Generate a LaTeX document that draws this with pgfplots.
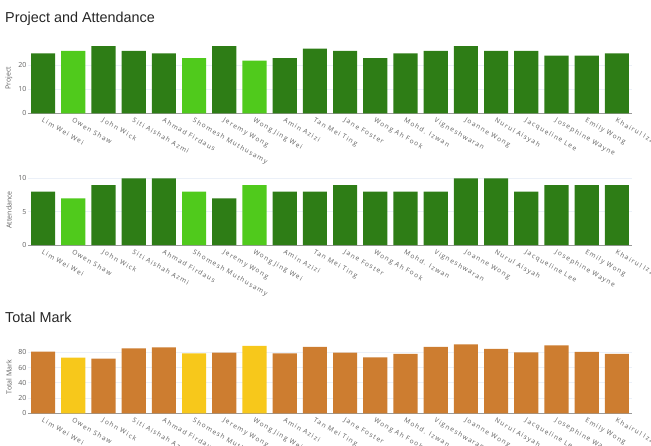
\documentclass[border=0pt]{standalone}
\usepackage{pgfplots}
\pgfplotsset{compat=1.18}
\usepackage{fontspec}
\setmainfont{Liberation Sans}
\newfontfamily\tickfont{Open Sans}
\newfontfamily\namefont[LetterSpace=18]{Open Sans}

\definecolor{darkgreen}{RGB}{46,125,22}
\definecolor{lightgreen}{RGB}{80,202,28}
\definecolor{bronze}{RGB}{205,125,48}
\definecolor{gold}{RGB}{247,200,27}
\definecolor{tickgray}{RGB}{95,95,95}
\definecolor{gridc}{RGB}{235,240,248}

\pgfplotsset{
    panel/.style={
        scale only axis,
        width=604bp,
        xmin=-0.5, xmax=19.5,
        ymin=0,
        ybar, bar width=0.8, bar shift=0pt,
        xtick={0,...,19},
        xticklabels={Lim Wei Wei, Owen Shaw, John Wick, Siti Aishah Azmi, Ahmad Firdaus,
            Shomesh Muthusamy, Jeremy Wong, Wong Jing Wei, Amin Azizi, Tan Mei Ting,
            Jane Foster, Wong Ah Fook, Mohd. Izwan, Vigneshwaran, Joanne Wong,
            Nurul Aisyah, Jacqueline Lee, Josephine Wayne, Emily Wong, Khairul Izzat},
        xticklabel style={rotate=-30, anchor=north west, font=\namefont\fontsize{6.6bp}{8bp}\selectfont,
            text=tickgray, inner sep=1bp, yshift=-2bp, xshift=1.5bp},
        yticklabel style={font=\tickfont\fontsize{7bp}{8bp}\selectfont, text=tickgray, inner sep=1.5bp},
        /pgf/number format/assume math mode=true,
        every axis y label/.style={at={([xshift=-19bp]axis description cs:0,0.5)},
            rotate=90, anchor=center, font=\tickfont\fontsize{7bp}{8bp}\selectfont, text=tickgray},
        major tick length=0pt,
        axis x line*=bottom,
        axis y line*=left,
        x axis line style={draw=black!40, line width=0.8bp},
        y axis line style={draw=none},
        ymajorgrids, grid style={gridc, line width=0.8bp},
        every axis plot/.append style={draw=none},
        clip=false,
    }
}

\begin{document}
\begin{tikzpicture}
\useasboundingbox (0,0) rectangle (651bp,-446bp);

\node[anchor=base west, inner sep=0pt, font=\fontsize{14.4bp}{16bp}\selectfont, text=black!85] at (5bp,-22.5bp) {Project and Attendance};
\node[anchor=base west, inner sep=0pt, font=\fontsize{14.4bp}{16bp}\selectfont, text=black!85] at (5bp,-322.5bp) {Total Mark};

% Project
\begin{axis}[panel, at={(28bp,-113.3bp)}, anchor=south west,
    height=70.7bp, ymax=29.47, ytick={0,10,20}, ylabel={Project}]
\addplot[fill=darkgreen] coordinates {(0,25) (2,28) (3,26) (4,25) (6,28) (8,23) (9,27)
    (10,26) (11,23) (12,25) (13,26) (14,28) (15,26) (16,26) (17,24) (18,24) (19,25)};
\addplot[fill=lightgreen] coordinates {(1,26) (5,23) (7,22)};
\end{axis}

% Attendance
\begin{axis}[panel, at={(28bp,-245bp)}, anchor=south west,
    height=70.2bp, ymax=10.53, ytick={0,5,10}, ylabel={Attendance}]
\addplot[fill=darkgreen] coordinates {(0,8) (2,9) (3,10) (4,10) (6,7) (8,8) (9,8)
    (10,9) (11,8) (12,8) (13,8) (14,10) (15,10) (16,8) (17,9) (18,9) (19,9)};
\addplot[fill=lightgreen] coordinates {(1,7) (5,8) (7,9)};
\end{axis}

% Total Mark
\begin{axis}[panel, at={(28bp,-413.3bp)}, anchor=south west,
    height=72.7bp, ymax=95.3, ytick={0,20,40,60,80}, ylabel={Total Mark}]
\addplot[fill=bronze] coordinates {(0,80.8) (2,71.6) (3,85.2) (4,86.5) (6,79.5) (8,78.7) (9,87)
    (10,79.5) (11,73.4) (12,77.8) (13,87) (14,90.5) (15,84.3) (16,80) (17,89.2) (18,80.4) (19,77.8)};
\addplot[fill=gold] coordinates {(1,73) (5,78.7) (7,88.3)};
\end{axis}
\end{tikzpicture}
\end{document}
